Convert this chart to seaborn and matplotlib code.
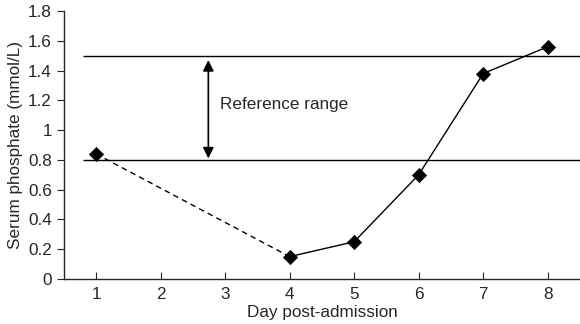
import matplotlib
matplotlib.use("Agg")
import matplotlib.pyplot as plt
import seaborn as sns
import pandas as pd

days = [1, 4, 5, 6, 7, 8]
phosphate = [0.84, 0.15, 0.25, 0.70, 1.38, 1.56]
ref_low, ref_high = 0.8, 1.5
x_ticks = [1, 2, 3, 4, 5, 6, 7, 8]
y_ticks = [0, 0.2, 0.4, 0.6, 0.8, 1.0, 1.2, 1.4, 1.6, 1.8]
y_tick_labels = ["0", "0.2", "0.4", "0.6", "0.8", "1", "1.2", "1.4", "1.6", "1.8"]

sns.set_style("ticks")
plt.rcParams['font.family'] = ['Liberation Sans', 'DejaVu Sans']

df = pd.DataFrame({"day": days, "phos": phosphate})
dashed = df.iloc[0:2]
solid = df.iloc[1:]

fig = plt.figure(figsize=(5.8, 3.24), dpi=100)
ax = fig.add_axes([0.110, 0.139, 0.890, 0.827])

ax.hlines([ref_high, ref_low], 0.8, 8.5, color="black", lw=1.0, zorder=1)

sns.lineplot(data=dashed, x="day", y="phos", ax=ax, color="black", lw=1.0,
             linestyle=(0, (4, 3)), zorder=2)
sns.lineplot(data=solid, x="day", y="phos", ax=ax, color="black", lw=1.0, zorder=2)
sns.scatterplot(data=df, x="day", y="phos", ax=ax, color="black", marker="D",
                s=60, edgecolor="black", linewidth=0, zorder=3)

ax.annotate("", xy=(2.74, 1.47), xytext=(2.74, 0.81),
            arrowprops=dict(arrowstyle="<|-|>", color="black", lw=1.2,
                            mutation_scale=16, shrinkA=0, shrinkB=0))
ax.text(2.92, 1.175, "Reference range", fontsize=12.3, va="center", ha="left")

ax.set_xlim(0.5, 8.5)
ax.set_ylim(0, 1.8)
ax.set_xticks(x_ticks)
ax.set_yticks(y_ticks)
ax.set_yticklabels(y_tick_labels)
ax.tick_params(axis="x", direction="in", length=5, labelsize=12.3, pad=6)
ax.tick_params(axis="y", direction="out", length=5, labelsize=12.3)
ax.set_xlabel("Day post-admission", fontsize=12.3, labelpad=2)
ax.set_ylabel("Serum phosphate (mmol/L)", fontsize=12.3, labelpad=4)
sns.despine(ax=ax)
for s in ["left", "bottom"]:
    ax.spines[s].set_linewidth(1.0)

fig.savefig("out.png", dpi=100)
